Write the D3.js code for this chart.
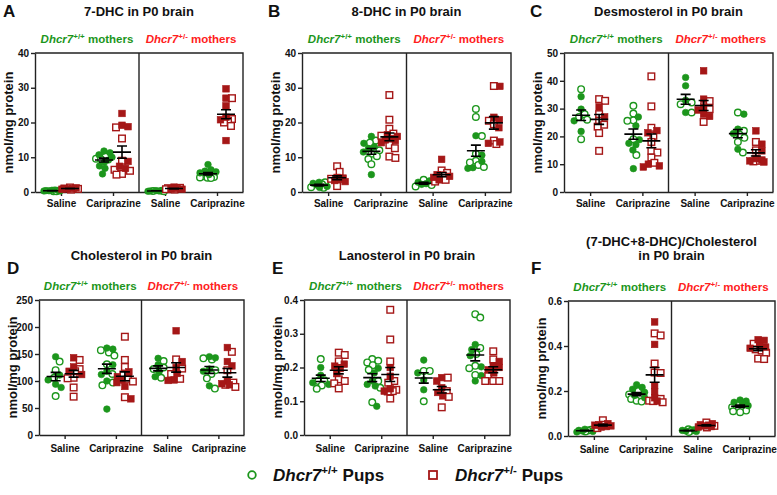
<!DOCTYPE html>
<html>
<head>
<meta charset="utf-8">
<script src="https://cdn.jsdelivr.net/npm/d3@7"></script>
<style>
  body { margin: 0; background: #fff; }
  text { font-family: Arial, "Liberation Sans", sans-serif; font-weight: bold; }
</style>
</head>
<body>
<svg id="chart" width="777" height="495"></svg>
<script>
// group order in each array:
// [+/+ mothers: saline +/+ pups, saline +/- pups, cariprazine +/+ pups, cariprazine +/- pups,
//  +/- mothers: saline +/+ pups, saline +/- pups, cariprazine +/+ pups, cariprazine +/- pups]
const groupKeys = ["s1", "c1", "s2", "c2"];
const groupNames = ["Saline", "Cariprazine", "Saline", "Cariprazine"];

const dhc7Filled = [[0.3,0.4,0.5,0.35,0.45,0.3],[0.8,1.0,1.2,0.9,1.1],[11.8,11.3,10.7,10.0,9.2,8.6,7.5,6.8,5.2],[22.6,18.8,19.2,8.8,7.4,6.8],
  [0.3,0.2,0.4,0.3],[0.8,1.0,1.4,0.9],[7.9,6.4,6.0,5.8,5.5,5.0],[29.7,27.0,24.8,21.5,20.8,14.8]];
const dhc7Open = [[0.2,0.4,0.25],[0.7,1.3,0.9],[10.2,9.6,9.4],[18.6,15.4,9.0,6.4,5.0,5.2,6.1],
  [0.25,0.35,0.3],[0.7,1.1,1.2,0.8],[4.2,4.0,4.3,4.1,4.5],[27.0,20.5,19.0,20.0,21.0]];

const dhc8Filled = [[2.8,2.5,2.0,1.6,1.3],[4.0,3.6,3.3,4.2,3.0],[16.0,13.0,12.5,11.5,5.0,14.0],[16.0,15.4,14.8,15.0,14.2,16.5],
  [2.8,2.4,2.2,3.2],[9.4,5.0,4.5,4.2,3.5],[16.2,7.0,8.8,10.6,6.8],[30.4,20.8,14.4,14.0,21.5,18.5]];
const dhc8Open = [[2.8,2.2,1.4,1.2],[7.4,5.8,1.7,3.8],[14.8,14.2,8.0,10.3,9.5,11.0,12.0],[27.9,20.8,18.2,16.8,12.6,10.2,9.8,16.2,13.5],
  [3.5,2.0,1.6],[6.2,5.5,3.0,3.5,4.8],[23.9,21.6,16.1,9.0,7.8,7.2,8.5,11.0],[30.5,20.5,14.8,13.8,19.5]];

const desmoFilled = [[34.3,29.8,25.6,21.8],[30.6,27.0],[27.0,23.8,17.0,18.8,8.4,15.1,17.5],[22.1,21.3,10.0,9.4,9.0],
  [41.2,38.2,28.6,33.0],[43.6,33.4,28.0,27.2,30.6,29.5],[28.0,15.4,21.0,22.6],[22.0,17.2,11.2,10.8,14.8,11.5,12.0]];
const desmoOpen = [[37.0,19.0,26.0,27.0,28.0],[32.8,33.4,23.5,21.2,14.8,25.6,24.2,28.0],[31.0,28.2,25.6,25.8,13.3,19.0],[41.6,30.8,23.1,20.2,18.0,14.8,14.2,12.4,10.5],
  [32.2,28.6,31.6],[25.2,32.7,29.8],[28.6,18.0,14.2,19.5,22.0,20.7],[18.0,11.2,15.0,11.0]];

const cholFilled = [[145,88,94,111,102],[143,126,112,118],[161,159,48,112,100,118,130],[67,90,117,108,97,102],
  [142,108,130,117],[193,136,101,102,114,125],[143,145,91,118,122],[162,136,128,93,100,95]];
const cholOpen = [[136,72,120,106],[139,71,88,106,122,105,118],[157,147,153,131,113,92,97],[182,139,126,104,99,70,112],
  [137,106,122,125],[140,113,104,123],[140,105,86,120,142,113],[154,93,89,120,97]];

const lanoFilled = [[0.2,0.177,0.155,0.15],[0.204,0.182,0.197,0.21],[0.184,0.145,0.085,0.198,0.16,0.15],[0.2,0.174,0.137,0.13],
  [0.222,0.184,0.134,0.163],[0.17,0.16,0.116,0.126,0.14],[0.268,0.253,0.202,0.176,0.16,0.235],[0.218,0.204,0.184,0.193,0.2]];
const lanoOpen = [[0.225,0.162,0.137,0.16,0.147],[0.237,0.244,0.218,0.16,0.138,0.153,0.165],[0.225,0.22,0.207,0.193,0.16,0.097,0.215,0.14],[0.371,0.283,0.218,0.16,0.129,0.108,0.134,0.155,0.13],
  [0.19,0.1,0.19],[0.17,0.113,0.082,0.13],[0.348,0.358,0.258,0.205,0.198,0.178,0.24],[0.248,0.224,0.16,0.16,0.175,0.16]];

const ratioFilled = [[0.02,0.025,0.03,0.018,0.022],[0.045,0.05,0.04,0.055,0.042,0.048],[0.228,0.216,0.208,0.194,0.18,0.17],[0.507,0.407,0.224,0.197,0.17,0.155],
  [0.022,0.025,0.028,0.02],[0.04,0.045,0.05,0.055,0.042,0.048],[0.16,0.155,0.145,0.135,0.15],[0.425,0.428,0.395,0.4,0.39]];
const ratioOpen = [[0.028,0.02,0.024],[0.07,0.035,0.05],[0.2,0.185,0.175,0.157,0.153,0.165],[0.447,0.456,0.322,0.282,0.157,0.15,0.165,0.155,0.28],
  [0.024,0.03,0.018],[0.06,0.038,0.045],[0.128,0.113,0.106,0.12,0.125,0.11,0.14],[0.342,0.344,0.37,0.385,0.38,0.41]];

const titles = [["7-DHC in P0 brain"], ["8-DHC in P0 brain"], ["Desmosterol in P0 brain"],
  ["Cholesterol in P0 brain"], ["Lanosterol in P0 brain"], ["(7-DHC+8-DHC)/Cholesterol", "in P0 brain"]];
const letters = ["A", "B", "C", "D", "E", "F"];
const yMax = [40, 40, 50, 250, 0.4, 0.6];
const yTicks = [[0,10,20,30,40], [0,10,20,30,40], [0,10,20,30,40,50], [0,50,100,150,200,250], [0,0.1,0.2,0.3,0.4], [0,0.2,0.4,0.6]];

const green = "#1c961c", darkRed = "#a51717", brightRed = "#ff2020";

const panels = [
  { filled: dhc7Filled, open: dhc7Open, x0: 35, x1: 243, y0: 53, y1: 192, lx: 3, tY: 16, fmt: d3.format("d") },
  { filled: dhc8Filled, open: dhc8Open, x0: 302, x1: 511, y0: 53, y1: 192, lx: 268, tY: 16, fmt: d3.format("d") },
  { filled: desmoFilled, open: desmoOpen, x0: 564, x1: 773, y0: 53, y1: 192, lx: 530, tY: 16, fmt: d3.format("d") },
  { filled: cholFilled, open: cholOpen, x0: 39, x1: 244, y0: 300, y1: 435, lx: 7, tY: 260, fmt: d3.format("d") },
  { filled: lanoFilled, open: lanoOpen, x0: 304, x1: 510, y0: 300, y1: 435, lx: 272, tY: 260, fmt: d3.format(".1f") },
  { filled: ratioFilled, open: ratioOpen, x0: 568, x1: 775, y0: 301, y1: 436, lx: 531, tY: 246, fmt: d3.format(".1f") }
];

const svg = d3.select("#chart");

// compact beeswarm: spread sideways within maxOff, overlap when there is no room left
function swarm(pts, dia, maxOff) {
  const placed = [];
  pts.sort((a, b) => a.py - b.py).forEach(p => {
    let best = 0, bestDist = -1;
    for (let k = 0; k <= maxOff * 4; k++) {
      const off = (k % 2 ? 1 : -1) * Math.ceil(k / 2) * 0.5;
      const near = placed.filter(q => Math.abs(q.py - p.py) < dia);
      const dist = near.length ? d3.min(near, q => Math.hypot(q.dx - off, q.py - p.py)) : Infinity;
      if (dist >= dia) { best = off; bestDist = dist; break; }
      if (dist > bestDist + 0.01) { best = off; bestDist = dist; }
    }
    p.dx = best;
    placed.push(p);
  });
  return pts;
}

function subtitle(g, cx, y, sup, color) {
  const t = g.append("text").attr("x", cx).attr("y", y).attr("text-anchor", "middle")
    .attr("font-size", 11.5).attr("fill", color);
  t.append("tspan").attr("font-style", "italic").text("Dhcr7");
  t.append("tspan").attr("font-size", 8).attr("dy", -4.5).text(sup);
  t.append("tspan").attr("dy", 4.5).text(" mothers");
}

panels.forEach((p, pi) => {
  const g = svg.append("g");
  const x = d3.scalePoint().domain(groupKeys).range([p.x0, p.x1]).padding(0.5);
  const y = d3.scaleLinear().domain([0, yMax[pi]]).range([p.y1, p.y0]);
  const mid = (p.x0 + p.x1) / 2;

  // titles
  titles[pi].forEach((t, i) => {
    g.append("text").attr("x", mid).attr("y", p.tY + i * 14).attr("text-anchor", "middle")
      .attr("font-size", 13).attr("fill", "#111").text(t);
  });
  g.append("text").attr("x", p.lx).attr("y", pi < 3 ? 17 : 274).attr("font-size", 17)
    .attr("fill", "#111").text(letters[pi]);
  subtitle(g, (p.x0 + mid) / 2, p.y0 - 10, "+/+", green);
  subtitle(g, (mid + p.x1) / 2, p.y0 - 10, "+/-", brightRed);

  // y label
  g.append("text").attr("transform", `translate(${p.x0 - 22.5},${(p.y0 + p.y1) / 2}) rotate(-90)`)
    .attr("text-anchor", "middle").attr("font-size", 13).attr("fill", "#111").text("nmol/mg protein");

  // axes
  const ya = g.append("g").attr("transform", `translate(${p.x0},0)`)
    .call(d3.axisLeft(y).tickValues(yTicks[pi]).tickFormat(p.fmt).tickSize(4).tickPadding(2).tickSizeOuter(0));
  const xa = g.append("g").attr("transform", `translate(0,${p.y1})`)
    .call(d3.axisBottom(x).tickSize(4).tickPadding(pi < 3 ? 4 : 6).tickSizeOuter(0).tickFormat((d, i) => groupNames[i]));
  [ya, xa].forEach(a => {
    a.selectAll("path, line").attr("stroke", "#222").attr("stroke-width", 1.4);
    a.selectAll("text").attr("font-size", 10).attr("fill", "#111")
      .style("font-family", "Arial, 'Liberation Sans', sans-serif").style("font-weight", "bold");
  });

  // frame: top, right and the divider between the two mother genotypes
  g.append("path").attr("fill", "none").attr("stroke", "#222").attr("stroke-width", 1.4)
    .attr("d", `M${p.x0},${p.y0}H${p.x1}V${p.y1}M${mid},${p.y0}V${p.y1}`);

  // points and mean ± SEM
  for (let gi = 0; gi < 8; gi++) {
    const het = gi % 2 === 1;
    const col = het ? darkRed : green;
    const cx = x(groupKeys[Math.floor(gi / 2)]) + (het ? 9 : -9);
    const pts = p.filled[gi].map(v => ({ v, fill: true }))
      .concat(p.open[gi].map(v => ({ v, fill: false })));
    pts.forEach(d => d.py = y(d.v));
    swarm(pts, 6, 8);
    pts.sort((a, b) => a.fill - b.fill);
    pts.forEach(d => {
      if (het) {
        g.append("rect").attr("x", cx + d.dx - 3.3).attr("y", d.py - 3.3).attr("width", 6.6).attr("height", 6.6)
          .attr("fill", d.fill ? col : "#fff").attr("stroke", col).attr("stroke-width", d.fill ? 0.6 : 1.4);
      } else {
        g.append("circle").attr("cx", cx + d.dx).attr("cy", d.py).attr("r", 3.3)
          .attr("fill", d.fill ? col : "#fff").attr("stroke", col).attr("stroke-width", d.fill ? 0.6 : 1.4);
      }
    });
    const vals = pts.map(d => d.v);
    const m = d3.mean(vals);
    const sem = d3.deviation(vals) / Math.sqrt(vals.length);
    g.append("path").attr("fill", "none").attr("stroke", "#000").attr("stroke-width", 1.6)
      .attr("d", `M${cx - 9},${y(m)}H${cx + 9}M${cx},${y(m - sem)}V${y(m + sem)}` +
        `M${cx - 5},${y(m - sem)}H${cx + 5}M${cx - 5},${y(m + sem)}H${cx + 5}`);
  }
});

// legend
const lg = svg.append("g");
lg.append("circle").attr("cx", 252).attr("cy", 475).attr("r", 3.8).attr("fill", "#fff")
  .attr("stroke", green).attr("stroke-width", 1.8);
lg.append("rect").attr("x", 429).attr("y", 471).attr("width", 8).attr("height", 8).attr("fill", "#fff")
  .attr("stroke", darkRed).attr("stroke-width", 1.8);
[[273, "+/+"], [455, "+/-"]].forEach(([lx, sup]) => {
  const t = lg.append("text").attr("x", lx).attr("y", 481).attr("font-size", 17).attr("fill", "#111");
  t.append("tspan").attr("font-style", "italic").text("Dhcr7");
  t.append("tspan").attr("font-size", 11.5).attr("dy", -7).text(sup);
  t.append("tspan").attr("dy", 7).text(" Pups");
});
</script>
</body>
</html>
